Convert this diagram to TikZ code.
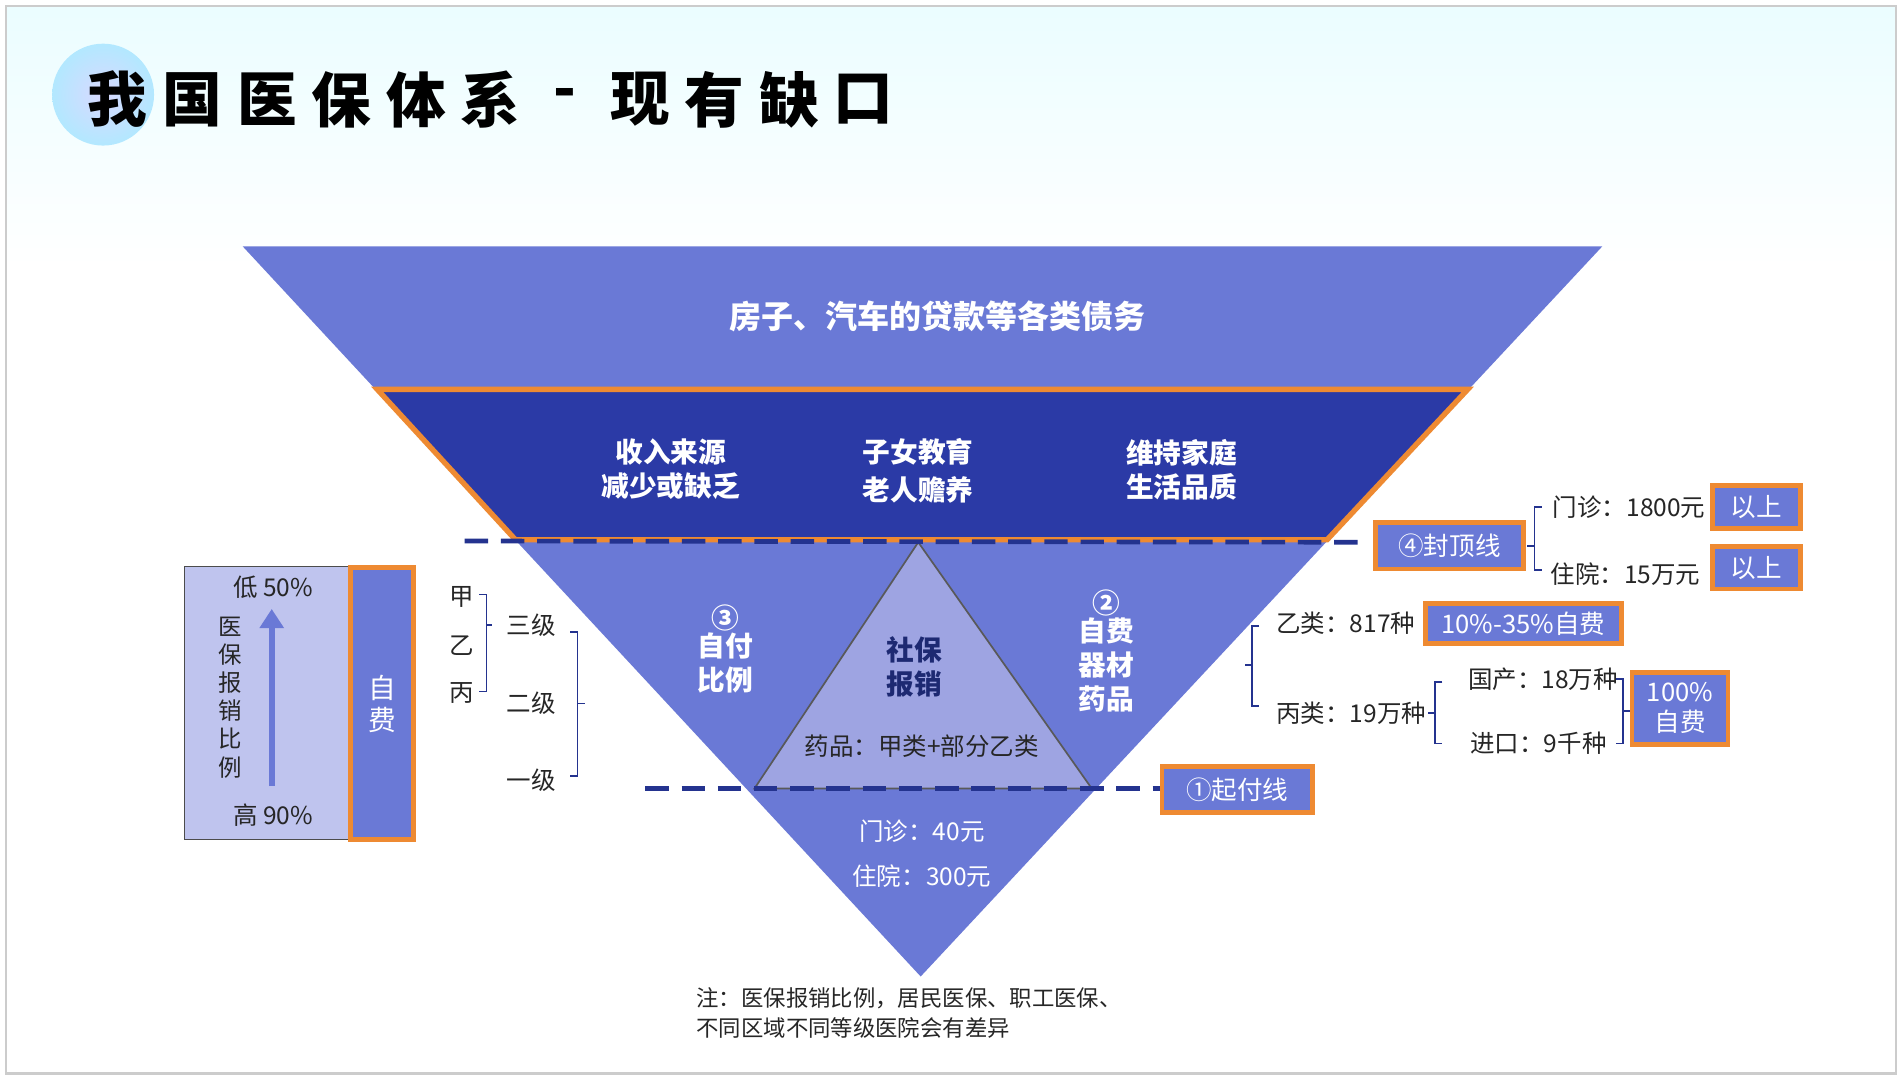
\documentclass[tikz,border=0pt]{standalone}
\usepackage{fontspec}
\setmainfont{Noto Sans CJK SC}
\newfontfamily\cjk{Noto Sans CJK SC}
\usetikzlibrary{arrows.meta}
\definecolor{mblue}{HTML}{6A79D6}
\definecolor{dblue}{HTML}{2B3AA6}
\definecolor{lblue}{HTML}{9EA4E2}
\definecolor{pblue}{HTML}{BFC4EE}
\definecolor{orng}{HTML}{EE8A32}
\definecolor{navy}{HTML}{24338F}
\definecolor{txt}{HTML}{262626}
\tikzset{
  wt/.style={text=white,font=\bfseries\fontsize{13}{16}\selectfont,align=center},
  dk/.style={text=txt,font=\fontsize{11.5}{14}\selectfont,align=center},
  obox/.style={draw=orng,line width=2.2pt,fill=mblue,text=white,font=\fontsize{12}{14}\selectfont,align=center,inner sep=0pt},
  brk/.style={draw=navy,line width=0.8pt},
  dsh/.style={draw=navy,line width=2.2pt,dash pattern=on 11pt off 6pt}
}
\begin{document}
\begin{tikzpicture}[x=0.02cm,y=-0.02cm]
\useasboundingbox (0,0) rectangle (1568,890);
\fill[white] (0,0) rectangle (1568,890);
\shade[top color=blue!10!cyan!8!white,bottom color=white] (5,5) rectangle (1563,220);
\draw[gray!40,line width=1pt] (5,5) rectangle (1563,885);
% title
\shade[inner color=blue!15!white,outer color=blue!30!cyan!30!white] (85,78) circle (42);
\foreach \c [count=\i] in {我,国,医,保,体,系,-,现,有,缺,口}{
  \node[font=\bfseries\fontsize{28}{30}\selectfont,text=black] (t\i) at ({97+(\i-1)*61.5},82) {\c};
}
% big triangle
\fill[mblue] (200,203) -- (1321,203) -- (759,805) -- cycle;
\node[wt,font=\bfseries\fontsize{15}{18}\selectfont] (debt) at (773,261) {房子、汽车的贷款等各类债务};
% band
\filldraw[fill=dblue,draw=orng,line width=2.5pt] (311,321) -- (1210,321) -- (1094,445) -- (425,445) -- cycle;
\node[wt] (b1) at (553,387) {收入来源\\减少或缺乏};
\node[wt] (b2) at (757,388) {子女教育\\[2pt]老人赡养};
\node[wt] (b3) at (974,387) {维持家庭\\生活品质};
% inner triangle
\filldraw[fill=lblue,draw=gray!70!black,line width=0.8pt] (757,447) -- (900,650) -- (622,650) -- cycle;
\node[wt,text=navy!80!black] (sb) at (754,550) {社保\\报销};
\node[dk] (yp) at (760,615) {药品：甲类+部分乙类};
\node[wt] (c3) at (598,535) {③\\[-3pt]自付\\比例};
\node[wt] (c2) at (912,537) {②\\[-3pt]自费\\器材\\药品};
\node[dk,text=white] (mz) at (760,685) {门诊：40元};
\node[dk,text=white] (zy) at (760,722) {住院：300元};
% dashed lines
\coordinate (d1a) at (383,446); \coordinate (d1b) at (1120,447);
\coordinate (d2a) at (532,650); \coordinate (d2b) at (957,650);
\draw[dsh] (d1a) -- (d1b);
\draw[dsh] (d2a) -- (d2b);
% left box
\filldraw[fill=pblue,draw=gray!60!black,line width=0.8pt] (152,467) rectangle (288,692);
\node[obox,minimum width=52*0.02cm,minimum height=224*0.02cm,font=\fontsize{13}{15}\selectfont] (zf) at (315,580) {自\\费};
\node[dk] (lo) at (225,484) {低 50\%};
\node[dk] (hi) at (225,672) {高 90\%};
\coordinate (ar1) at (224,648); \coordinate (ar2) at (224,502);
\draw[mblue,line width=3pt,-{Triangle[length=9pt,width=11pt]}] (ar1) -- (ar2);
\node[dk,font=\fontsize{11}{13.2}\selectfont] (vt) at (190,575) {医\\保\\报\\销\\比\\例};
\node[dk] (ja) at (381,492) {甲};
\node[dk] (yi) at (381,532) {乙};
\node[dk] (bi) at (381,571) {丙};
\draw[brk] (395,490) -- (401,490) -- (401,570) -- (395,570) (401,515) -- (406,515);
\node[dk] (l3) at (438,515) {三级};
\node[dk] (l2) at (438,580) {二级};
\node[dk] (l1) at (438,643) {一级};
\draw[brk] (470,521) -- (476,521) -- (476,640) -- (470,640) (476,580) -- (482,580);
% right side
\node[obox,minimum width=122*0.02cm,minimum height=38*0.02cm] (fd) at (1195,450) {④封顶线};
\draw[brk] (1271,418) -- (1265,418) -- (1265,470) -- (1271,470) (1265,450) -- (1259,450);
\node[dk,anchor=west] (m18) at (1274,418) {门诊：1800元};
\node[dk,anchor=west] (z15) at (1272,473) {住院：15万元};
\node[obox,minimum width=73*0.02cm,minimum height=35*0.02cm] (ys1) at (1448,418) {以上};
\node[obox,minimum width=73*0.02cm,minimum height=35*0.02cm] (ys2) at (1448,468) {以上};
\draw[brk] (1038,516) -- (1032,516) -- (1032,582) -- (1038,582) (1032,548) -- (1026,548);
\node[dk,anchor=west] (yl) at (1046,514) {乙类：817种};
\node[obox,minimum width=162*0.02cm,minimum height=33*0.02cm] (p1) at (1256,514) {10\%-35\%自费};
\node[dk,anchor=west] (bl) at (1046,588) {丙类：19万种};
\draw[brk] (1189,562) -- (1183,562) -- (1183,613) -- (1189,613) (1183,588) -- (1177,588);
\node[dk,anchor=west] (gc) at (1204,560) {国产：18万种};
\node[dk,anchor=west] (jk) at (1206,613) {进口：9千种};
\draw[brk] (1332,560) -- (1338,560) -- (1338,613) -- (1332,613) (1338,586) -- (1344,586);
\node[obox,minimum width=79*0.02cm,minimum height=59*0.02cm] (p2) at (1385,584) {100\%\\自费};
\node[obox,minimum width=124*0.02cm,minimum height=38*0.02cm] (qf) at (1020,651) {①起付线};
% note
\node[dk,anchor=north west,align=left,font=\fontsize{10.5}{14}\selectfont] (note) at (568,808) {注：医保报销比例，居民医保、职工医保、\\不同区域不同等级医院会有差异};
\end{tikzpicture}
\end{document}
